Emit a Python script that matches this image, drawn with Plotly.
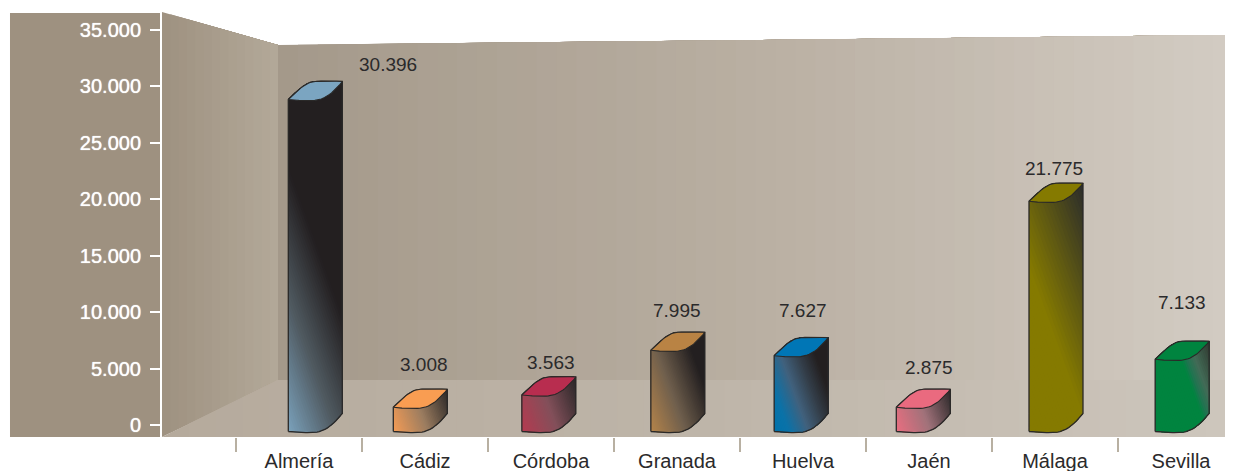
import plotly.graph_objects as go

# ---------- data ----------
provinces = ["Almería", "Cádiz", "Córdoba", "Granada", "Huelva", "Jaén", "Málaga", "Sevilla"]
values = [30396, 3008, 3563, 7995, 7627, 2875, 21775, 7133]
# Height of each drawn column's rear top corner, read off the y axis of the reference
# (the hand-drawn columns do not sit exactly at their printed values).
drawn_heights = [30436, 3163, 4253, 8214, 7735, 3163, 21416, 7416]
y_ticks = [0, 5000, 10000, 15000, 20000, 25000, 30000, 35000]
y_tick_labels = ["0", "5.000", "10.000", "15.000", "20.000", "25.000", "30.000", "35.000"]

# ---------- styles ----------
FONT = "Liberation Sans"
TEXT = "#2b2a2b"
OUT = "#2a2928"
PAGE = 8                        # the page's own margin around the figure
W, H = 1233 - PAGE, 471 - PAGE
TOP, BOTTOM = 12, 437           # plot area in window pixels
SLOT = 126.0                    # pixels per category
X0 = 299.0                      # window pixel of category 0
Y0, PX_PER_UNIT = 425.0, 395.0 / 35000.0
BAR_W, DEPTH = 54.0, 18.0       # px
BASE_FRONT, BASE_BACK = -6.5, 11.5  # px above the zero line

bar_shift_px = [16.3, -4.7, -2.15, 0.85, -1.85, -5.7, 1.0, 1.15]
label_offset = [(89, 17), (-1, 27), (0, 22), (0, 24), (0, 28), (0, 25), (-1, 11), (1, 42)]
top_colors = ["#7ba5c1", "#f99d52", "#b82d4f", "#b98344", "#0076b6", "#ea6a7f", "#857a00", "#00843f"]
BLACK = "#231f20"
bar_grad = [
    (90, [(0, "#7ba2bc"), (0.5, "#505a61"), (1, BLACK)]),
    (65, [(0, "#f59c55"), (0.5, "#9c7d60"), (1, "#2b2827")]),
    (68, [(0, "#b53a50"), (0.5, "#83505a"), (1, "#2b2829")]),
    (66, [(0, "#b5844a"), (0.5, "#6f5f4d"), (1, BLACK)]),
    (65, [(0, "#0072ab"), (0.22, "#0b72a8"), (0.5, "#41617d"), (0.75, "#343f4a"), (1, BLACK)]),
    (65, [(0, "#ea6e80"), (0.5, "#a0727a"), (1, "#2b2829")]),
    (134, [(0, "#857a00"), (0.417, "#857a00"), (1, "#2c2d2b")]),
    (82, [(0, "#00843f"), (0.6, "#00843f"), (0.66, "#1f7450"), (0.76, "#426b56"), (1, "#30362f")]),
]
GRAD_DIR = (0.94, -0.34)


def to_x(px):
    return (px - X0) / SLOT


def to_y(px):
    return (Y0 - px) / PX_PER_UNIT


def hex2rgb(c):
    return tuple(int(c[i:i + 2], 16) for i in (1, 3, 5))


def color_at(stops, t):
    t = max(0.0, min(1.0, t))
    for (a, ca), (b, cb) in zip(stops, stops[1:]):
        if t <= b:
            f = 0 if b == a else (t - a) / (b - a)
            ra, rb = hex2rgb(ca), hex2rgb(cb)
            return "rgb(%d,%d,%d)" % tuple(round(ra[i] + (rb[i] - ra[i]) * f) for i in range(3))
    return stops[-1][1]


def clip(poly, fn):
    """Keep the part of poly where fn(point) >= 0."""
    out = []
    for i, p in enumerate(poly):
        q = poly[(i + 1) % len(poly)]
        a, b = fn(p), fn(q)
        if a >= 0:
            out.append(p)
        if (a >= 0) != (b >= 0):
            f = a / (a - b)
            out.append((p[0] + (q[0] - p[0]) * f, p[1] + (q[1] - p[1]) * f))
    return out


def gradient_shapes(poly, origin, direction, length, stops, steps):
    """Painter's-order bands: each band overpaints everything beyond its start."""
    nx, ny = direction
    def t_of(p):
        return (((p[0] - origin[0]) * SLOT) * nx + ((p[1] - origin[1]) * -PX_PER_UNIT) * ny) / length
    shapes = []
    for k in range(steps + 1):
        t0 = k / steps
        part = poly if k == 0 else clip(poly, lambda p: t_of(p) - t0)
        if len(part) < 3:
            continue
        path = "M" + "L".join(f"{x:.4f},{y:.2f}" for x, y in part) + "Z"
        shapes.append(dict(type="path", path=path, xref="x", yref="y", layer="below",
                           fillcolor=color_at(stops, (k + 0.5) / steps), line=dict(width=0)))
    return shapes


def bez(p0, p1, p2, p3, n=14):
    pts = []
    for i in range(1, n + 1):
        t = i / n
        m = 1 - t
        pts.append((m**3 * p0[0] + 3 * m * m * t * p1[0] + 3 * m * t * t * p2[0] + t**3 * p3[0],
                    m**3 * p0[1] + 3 * m * m * t * p1[1] + 3 * m * t * t * p2[1] + t**3 * p3[1]))
    return pts


UPPER = [(0, 0)] + bez((0, 0), (0.2, 0.6), (0.35, 1.0), (0.5, 1.0)) + bez((0.5, 1.0), (0.65, 1.03), (0.85, 1.02), (1, 1))
LOWER = [(0, 0)] + bez((0, 0), (0.15, -0.05), (0.3, -0.08), (0.45, -0.06)) + bez((0.45, -0.06), (0.65, -0.03), (0.8, 0.25), (1, 1))

shapes = []
# ---------- decorative 3-D frame ----------
pw = lambda pts: [(to_x(a), to_y(b)) for a, b in pts]
shapes.append(dict(type="path", path="M" + "L".join(f"{x:.4f},{y:.2f}" for x, y in pw([(10, 13), (160, 13), (160, 437), (10, 437)])) + "Z",
                   xref="x", yref="y", layer="below", fillcolor="#9e9180", line=dict(width=0)))
side = pw([(162, 12), (278, 45), (278, 380), (162, 437)])
shapes += gradient_shapes(side, (to_x(162), 0), (1, 0), 116, [(0, "#9e9180"), (1, "#b3a999")], 14)
back = pw([(278, 45), (1233, 35), (1233, 380), (278, 380)])
shapes += gradient_shapes(back, (to_x(278), 0), (1, 0), 955, [(0, "#a4998a"), (0.5, "#b9afa2"), (1, "#d3ccc3")], 48)
floor = pw([(162, 437), (278, 380), (1233, 380), (1233, 437)])
shapes += gradient_shapes(floor, (to_x(162), 0), (1, 0), 1071, [(0, "#b5aa9c"), (0.5, "#beb5a9"), (1, "#cdc6bc")], 40)

fig = go.Figure()
# ---------- columns ----------
for i, name in enumerate(provinces):
    cx = i + bar_shift_px[i] / SLOT
    hw = BAR_W / 2 / SLOT
    left, right = cx - hw, cx + hw
    depth = DEPTH / PX_PER_UNIT
    back_top = drawn_heights[i]
    front_top = back_top - depth
    front_base = BASE_FRONT / PX_PER_UNIT

    def curve(pts, y0):
        return [(left + u * (right - left), y0 + v * depth) for u, v in pts]

    top_up = curve(UPPER, front_top)
    top_lo = curve(LOWER, front_top)
    bottom = curve(LOWER, front_base)
    silhouette = bottom + top_up[::-1]

    length, stops = bar_grad[i]
    shapes += gradient_shapes(silhouette, (left, front_base), GRAD_DIR, length, stops, 40)

    xs, ys = zip(*(silhouette + silhouette[:1]))
    fig.add_trace(go.Scatter(x=xs, y=ys, mode="lines", line=dict(color=OUT, width=1.3),
                             name=name, hoverinfo="name", showlegend=False))
    lens = top_up + top_lo[::-1]
    xs, ys = zip(*lens)
    fig.add_trace(go.Scatter(x=xs, y=ys, mode="lines", fill="toself", fillcolor=top_colors[i],
                             line=dict(color=OUT, width=1.1), name=name, hoverinfo="name", showlegend=False))

# ---------- value labels ----------
annotations = []
for i, v in enumerate(values):
    dx, dy = label_offset[i]
    annotations.append(dict(x=i, y=v, xref="x", yref="y", text=f"{v:,}".replace(",", "."),
                            showarrow=False, xshift=dx, yshift=dy, xanchor="center", yanchor="middle",
                            font=dict(family=FONT, size=19, color=TEXT)))

fig.update_layout(
    width=W, height=H,
    margin=dict(l=0, r=0, t=TOP - PAGE, b=H - (BOTTOM - PAGE), pad=0, autoexpand=False),
    paper_bgcolor="white", plot_bgcolor="rgba(0,0,0,0)",
    showlegend=False, shapes=shapes, annotations=annotations,
    xaxis=dict(
        automargin=False,
        range=[to_x(PAGE), to_x(1233)], tickmode="array", tickvals=list(range(len(provinces))), ticktext=provinces,
        ticks="outside", ticklen=6, tickcolor="rgba(0,0,0,0)", tickwidth=1, showgrid=False, zeroline=False, showline=False,
        tickfont=dict(family=FONT, size=20, color=TEXT),
        minor=dict(tickmode="array", tickvals=[k - 0.5 for k in range(len(provinces))], ticks="outside",
                   ticklen=14, tickwidth=1.5, tickcolor="#b8b0a2", showgrid=False),
    ),
    yaxis=dict(
        automargin=False,
        range=[to_y(BOTTOM), to_y(TOP)], anchor="free", position=(161 - PAGE) / W, side="left",
        tickmode="array", tickvals=y_ticks, ticktext=y_tick_labels,
        ticks="outside", ticklen=10, tickwidth=2, tickcolor="white", ticklabelstandoff=5,
        showline=True, linecolor="white", linewidth=2, showgrid=False, zeroline=False,
        tickfont=dict(family=FONT, size=20, color="white", shadow="0 0 1px #ffffff"),
    ),
)
fig.write_html("out.html")
